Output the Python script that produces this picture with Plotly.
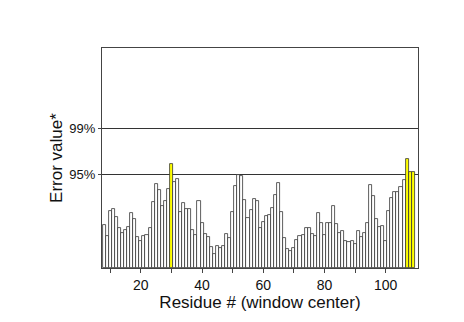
import plotly.graph_objects as go

residues = list(range(8, 110))
error_vals = [43, 32, 57, 59, 51, 40, 35, 38, 41, 55,
              49, 31, 27, 32, 33, 40, 66, 84, 78, 62,
              67, 79, 104, 86, 89, 56, 65, 59, 59, 38,
              33, 67, 45, 34, 31, 21, 14, 22, 20, 22,
              34, 30, 56, 82, 93, 92, 68, 50, 58, 69,
              67, 40, 46, 52, 53, 60, 73, 85, 56, 30,
              19, 17, 20, 28, 32, 33, 40, 40, 34, 32,
              55, 45, 33, 45, 45, 62, 44, 35, 37, 27,
              26, 27, 24, 37, 31, 35, 45, 83, 72, 49,
              41, 42, 27, 57, 70, 76, 76, 81, 88, 109,
              96, 96]
error_vals = [v / 100 for v in error_vals]
highlight = [30, 107, 108, 109]
threshold_vals = [0.94, 1.40]
threshold_labels = ["95%", "99%"]
x_tickvals = [10, 20, 30, 40, 50, 60, 70, 80, 90, 100]
x_ticktext = ["", "20", "", "40", "", "60", "", "80", "", "100"]

colors = ["#ffff00" if r in highlight else "#ffffff" for r in residues]

fig = go.Figure()
fig.add_trace(go.Bar(
    x=residues, y=error_vals, width=1.0,
    marker=dict(color=colors, line=dict(color="#333333", width=0.8)),
))

fig.update_layout(
    width=464, height=322,
    margin=dict(l=102, r=46, t=48, b=54),
    paper_bgcolor="white", plot_bgcolor="white",
    showlegend=False, bargap=0,
    font=dict(family="Liberation Sans, Arial, sans-serif", color="#111111"),
)
fig.update_xaxes(
    range=[7.3, 110.55], tickvals=x_tickvals, ticktext=x_ticktext,
    ticks="outside", ticklen=4, tickcolor="#444444",
    tickfont=dict(size=14), showgrid=False, zeroline=False,
    showline=True, linecolor="#444444", linewidth=1, mirror=True,
    title=dict(text="Residue # (window center)", font=dict(size=17), standoff=0),
)
fig.update_yaxes(
    range=[0, 2.2], tickvals=threshold_vals, ticktext=threshold_labels,
    ticks="outside", ticklen=3, tickcolor="#444444",
    tickfont=dict(size=13), showgrid=True, gridcolor="#333333", gridwidth=1,
    zeroline=False, showline=True, linecolor="#444444", linewidth=1, mirror=True,
    title=dict(text="Error value*", font=dict(size=17), standoff=2),
)

fig.write_html("out.html")
